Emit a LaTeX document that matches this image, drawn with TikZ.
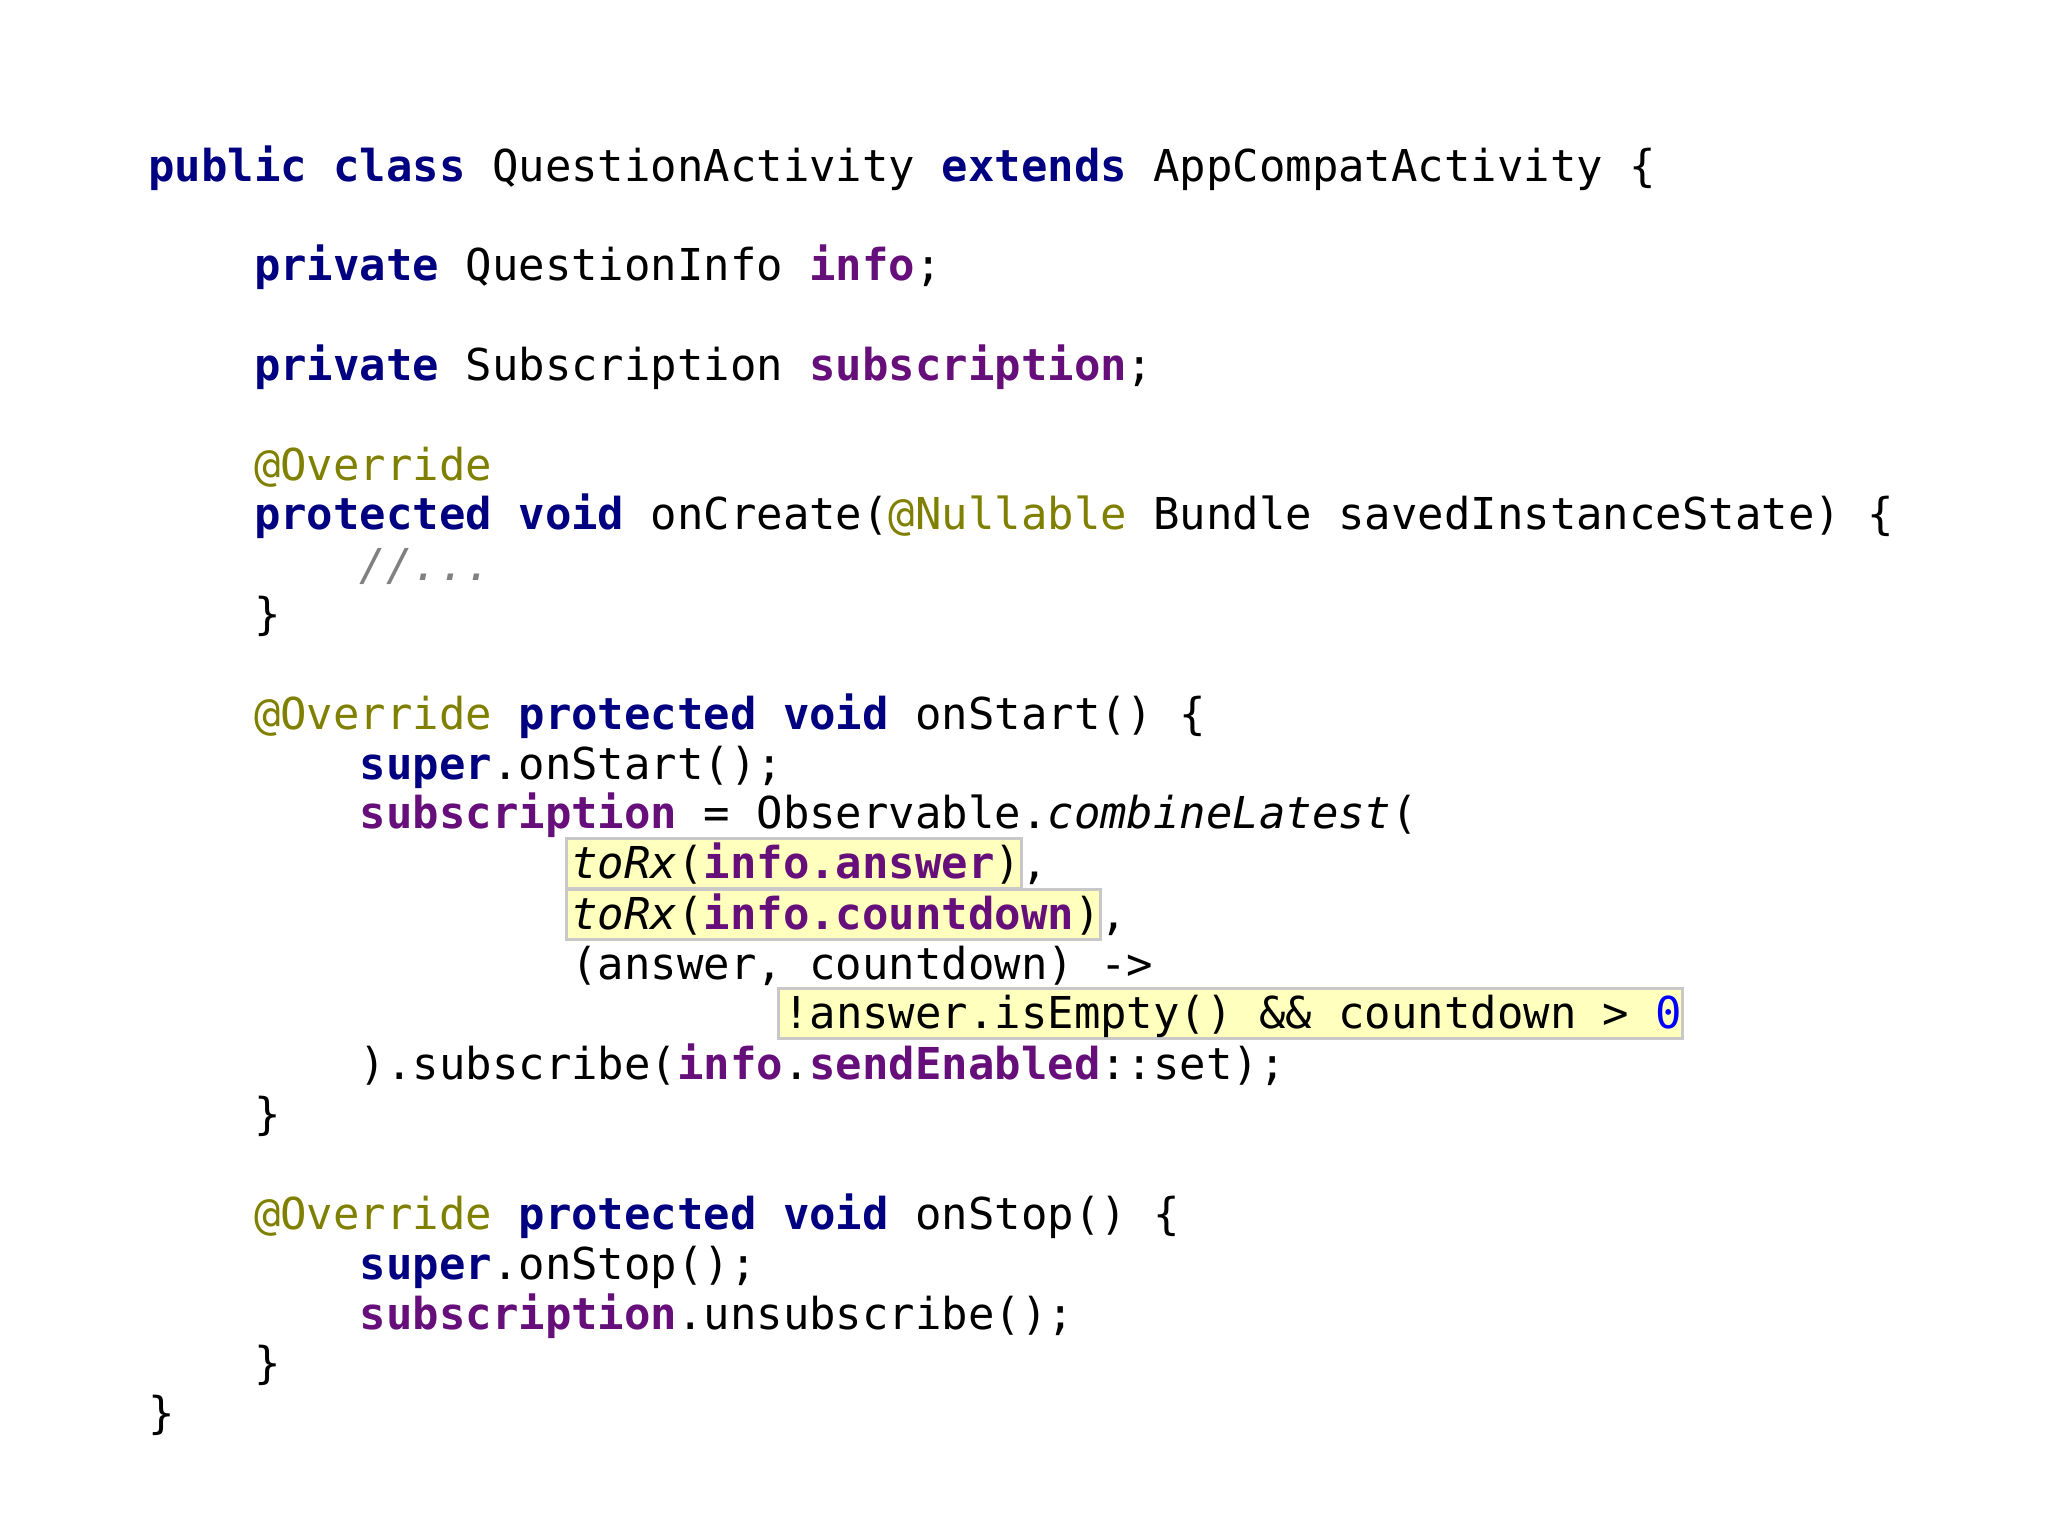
\documentclass[tikz,border=0pt]{standalone}
\usepackage{fontspec}
\setmonofont{DejaVu Sans Mono}
\definecolor{kwc}{HTML}{000080}
\definecolor{fdc}{HTML}{660E7A}
\definecolor{anc}{HTML}{808000}
\definecolor{cmc}{HTML}{808080}
\definecolor{nmc}{HTML}{0000FF}
\definecolor{hlc}{HTML}{FFFFBE}
\definecolor{hlb}{HTML}{C8C8C8}
\newcommand\kw[1]{\textcolor{kwc}{\bfseries #1}}
\newcommand\fd[1]{\textcolor{fdc}{\bfseries #1}}
\newcommand\an[1]{\textcolor{anc}{#1}}
\newcommand\cmt[1]{\textcolor{cmc}{\itshape #1}}
\newcommand\nm[1]{\textcolor{nmc}{#1}}
\tikzset{code/.style={anchor=west,inner sep=0pt,text height=0.75em,text depth=0.22em,font=\fontsize{12.5pt}{15pt}\ttfamily},
hl/.style={fill=hlc,draw=hlb,line width=0.8pt}}
\newcommand\cx[1]{\fpeval{1.476+#1*0.2645}}
\newcommand\cy[1]{\fpeval{-#1*0.01306-0.06}}
\newcommand\cl[4]{\node[code] (#1) at (\cx{#2},\cy{#3}) {#4};}
\newcommand\hlbox[4]{\path[hl] (\fpeval{1.476+#2*0.2645-0.04},\fpeval{-#3*0.01306+0.25}) rectangle (\fpeval{1.476+(#2+#4)*0.2645+0.01},\fpeval{-#3*0.01306-0.25}) coordinate (#1);}
\begin{document}
\begin{tikzpicture}
\useasboundingbox (0,0) rectangle (20.48,-15.36);
\hlbox{h1}{16}{661}{17}
\hlbox{h2}{16}{700}{20}
\hlbox{h3}{24}{776}{34}
\cl{l1}{0}{127}{\kw{public class} QuestionActivity \kw{extends} AppCompatActivity \{}
\cl{l2}{4}{203}{\kw{private} QuestionInfo \fd{info};}
\cl{l3}{4}{280}{\kw{private} Subscription \fd{subscription};}
\cl{l4}{4}{356}{\an{@Override}}
\cl{l5}{4}{394}{\kw{protected void} onCreate(\an{@Nullable} Bundle savedInstanceState) \{}
\cl{l6}{8}{433}{\cmt{//...}}
\cl{l7}{4}{470}{\}}
\cl{l8}{4}{547}{\an{@Override} \kw{protected void} onStart() \{}
\cl{l9}{8}{585}{\kw{super}.onStart();}
\cl{l10}{8}{623}{\fd{subscription} = Observable.\textit{combineLatest}(}
\cl{l11}{16}{661}{\textit{toRx}(\fd{info.answer}),}
\cl{l12}{16}{700}{\textit{toRx}(\fd{info.countdown}),}
\cl{l13}{16}{738}{(answer, countdown) ->}
\cl{l14}{24}{776}{!answer.isEmpty() \&\& countdown > \nm{0}}
\cl{l15}{8}{815}{).subscribe(\fd{info}.\fd{sendEnabled}::set);}
\cl{l16}{4}{853}{\}}
\cl{l17}{4}{930}{\an{@Override} \kw{protected void} onStop() \{}
\cl{l18}{8}{968}{\kw{super}.onStop();}
\cl{l19}{8}{1006}{\fd{subscription}.unsubscribe();}
\cl{l20}{4}{1044}{\}}
\cl{l21}{0}{1082}{\}}
\end{tikzpicture}
\end{document}
